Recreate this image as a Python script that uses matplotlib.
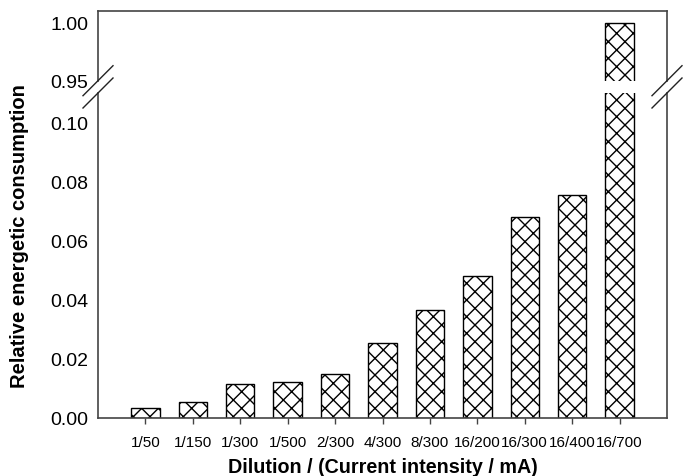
import matplotlib

matplotlib.use("Agg")
import matplotlib.pyplot as plt
from matplotlib.lines import Line2D

W, H = 697, 477

labels = ["1/50", "1/150", "1/300", "1/500", "2/300", "4/300",
          "8/300", "16/200", "16/300", "16/400", "16/700"]
values = [0.0033, 0.0053, 0.0114, 0.0123, 0.0149, 0.0255,
          0.0366, 0.0481, 0.0681, 0.0756, 1.00]
low_ticks = [0.00, 0.02, 0.04, 0.06, 0.08, 0.10]
high_ticks = [0.95, 1.00]

plt.rcParams["font.family"] = ["Liberation Sans", "DejaVu Sans"]
plt.rcParams["hatch.linewidth"] = 1.0
plt.rcParams["hatch.color"] = "black"

fig = plt.figure(figsize=(W / 100, H / 100), dpi=100)


def px_axes(left, top, right, bottom):
    return fig.add_axes([left / W, 1 - bottom / H, (right - left) / W, (bottom - top) / H])


ax_hi = px_axes(98, 12, 667, 81.7)
ax_lo = px_axes(98, 94, 667, 419)

x = list(range(len(labels)))
spine_col = "#444444"
for ax in (ax_hi, ax_lo):
    ax.bar(x, values, width=0.6, color="white", edgecolor="black",
           linewidth=1.0, hatch="xx", zorder=2)
    ax.set_xlim(-1, 11)
    for s in ax.spines.values():
        s.set_color(spine_col)
        s.set_linewidth(1.2)
    ax.tick_params(axis="y", length=0, pad=7, labelsize=14)

ax_hi.set_ylim(0.95, 1.01)
ax_hi.set_yticks(high_ticks)
ax_hi.set_yticklabels([f"{v:.2f}" for v in high_ticks])
ax_hi.spines["bottom"].set_visible(False)
ax_hi.set_xticks([])

ax_lo.set_ylim(0, 0.11)
ax_lo.set_yticks(low_ticks)
ax_lo.set_yticklabels([f"{v:.2f}" for v in low_ticks])
ax_lo.spines["top"].set_visible(False)
ax_lo.set_xticks(x)
ax_lo.set_xticklabels(labels)
ax_lo.tick_params(axis="x", length=4, width=1.0, color=spine_col,
                  direction="out", pad=8, labelsize=11)

ax_lo.set_xlabel("Dilution / (Current intensity / mA)", fontsize=14.2,
                 fontweight="bold", labelpad=6)
fig.text(20 / W, 1 - 236 / H, "Relative energetic consumption", rotation=90,
         fontsize=14.5, fontweight="bold", ha="center", va="center")

# break marks on both sides of the axis
for xs in (98, 667):
    for ys in (81.7, 94):
        fig.add_artist(Line2D([(xs - 15) / W, (xs + 15) / W],
                              [1 - (ys + 15) / H, 1 - (ys - 15) / H],
                              color="#222222", linewidth=1.0))

fig.savefig("out.png", dpi=100)
